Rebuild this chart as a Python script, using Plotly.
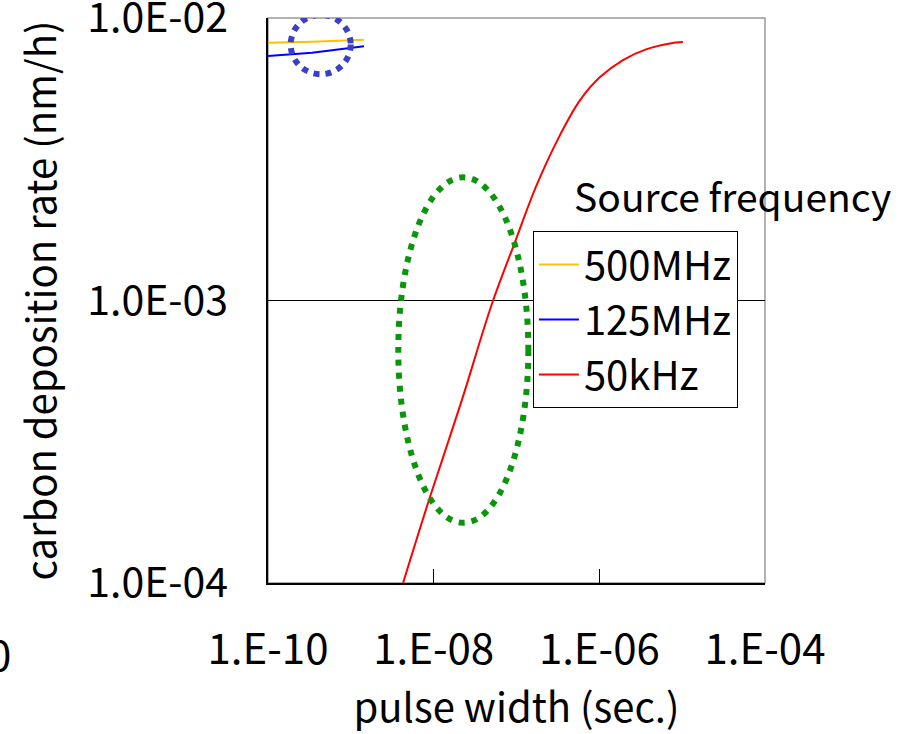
import plotly.graph_objects as go

# ---- data ----
x_500mhz = [1.0e-10, 3.4e-10, 1.44e-9]
y_500mhz = [8.17e-3, 8.24e-3, 8.38e-3]

x_125mhz = [1.0e-10, 3.4e-10, 1.44e-9]
y_125mhz = [7.33e-3, 7.53e-3, 7.94e-3]

x_50khz = [4.27e-9, 9.04e-9, 2.18e-8, 5.02e-8, 9.59e-8, 1.75e-7, 3.35e-7,
           5.85e-7, 1.02e-6, 1.93e-6, 3.73e-6, 7.13e-6, 1.02e-5]
y_50khz = [1.0e-4, 2.02e-4, 4.42e-4, 9.68e-4, 1.61e-3, 2.56e-3, 3.85e-3,
           5.12e-3, 6.18e-3, 7.10e-3, 7.76e-3, 8.13e-3, 8.22e-3]

series_names = ["500MHz", "125MHz", "50kHz"]
series_colors = ["#FFC000", "#0000FF", "#FF0000"]

x_tickvals = [1e-10, 1e-8, 1e-6, 1e-4]
x_ticktext = ["1.E-10", "1.E-08", "1.E-06", "1.E-04"]
y_tickvals = [1e-4, 1e-3, 1e-2]
y_ticktext = ["1.0E-04", "1.0E-03", "1.0E-02"]

# highlight ellipses (data coordinates: x0, x1, y0, y1)
blue_ring = [10 ** -9.726, 10 ** -9.0016, 10 ** -2.199, 10 ** -1.989]
green_ring = [10 ** -8.427, 10 ** -6.857, 10 ** -3.787, 10 ** -2.564]

FONT = "Noto Sans CJK JP"

fig = go.Figure()
for i, (xs, ys) in enumerate([(x_500mhz, y_500mhz), (x_125mhz, y_125mhz), (x_50khz, y_50khz)]):
    fig.add_trace(go.Scatter(
        x=xs, y=ys, mode="lines", name=series_names[i],
        legendgroup=series_names[i],
        line=dict(color=series_colors[i], width=2, shape="spline" if i == 2 else "linear"),
    ))

# plot frame: gray top/right
fig.add_shape(type="rect", xref="paper", yref="paper", x0=0, x1=1, y0=0, y1=1,
              line=dict(color="#999999", width=1.5), layer="below")

fig.add_shape(type="circle", xref="x", yref="y",
              x0=blue_ring[0], x1=blue_ring[1], y0=blue_ring[2], y1=blue_ring[3],
              line=dict(color="#3A3FC8", width=6, dash="6px,6px"))
fig.add_shape(type="circle", xref="x", yref="y",
              x0=green_ring[0], x1=green_ring[1], y0=green_ring[2], y1=green_ring[3],
              line=dict(color="#0A960A", width=6, dash="6px,7px"))

fig.add_annotation(text="Source frequency", xref="paper", yref="paper",
                   x=0.612, y=0.686, xanchor="left", yanchor="middle",
                   showarrow=False, font=dict(family=FONT, size=39, color="black"))
fig.add_annotation(text="0", xref="paper", yref="paper",
                   x=-0.513, y=-0.123, xanchor="right", yanchor="middle",
                   showarrow=False, font=dict(family=FONT, size=42, color="black"))

fig.update_layout(
    width=908, height=734,
    margin=dict(l=268, r=143, t=18, b=151),
    paper_bgcolor="white", plot_bgcolor="white",
    font=dict(family=FONT, size=40, color="black"),
    showlegend=True,
    legend=dict(x=0.533, y=0.623, xanchor="left", yanchor="top",
                bordercolor="black", borderwidth=1, bgcolor="white",
                font=dict(family=FONT, size=40), itemwidth=40,
                tracegroupgap=0),
    xaxis=dict(type="log", range=[-10, -4], tickvals=x_tickvals, ticktext=x_ticktext,
               showgrid=False, zeroline=False, showline=True, linecolor="black",
               linewidth=1.5, ticks="inside", ticklen=14, tickcolor="black",
               ticklabelstandoff=29, automargin=False, ticklabeloverflow="allow",
               tickfont=dict(family=FONT, size=42),
               title=dict(text="pulse width (sec.)", standoff=22,
                          font=dict(family=FONT, size=40))),
    yaxis=dict(type="log", range=[-4, -2], tickvals=y_tickvals, ticktext=y_ticktext,
               showgrid=True, gridcolor="black", gridwidth=1, zeroline=False,
               showline=True, linecolor="black", linewidth=1.5,
               ticks="inside", ticklen=15, tickcolor="black",
               ticklabelstandoff=30, automargin=False, ticklabeloverflow="allow",
               tickfont=dict(family=FONT, size=41),
               title=dict(text="carbon deposition rate (nm/h)", standoff=18,
                          font=dict(family=FONT, size=40))),
)

fig.write_html("out.html")
